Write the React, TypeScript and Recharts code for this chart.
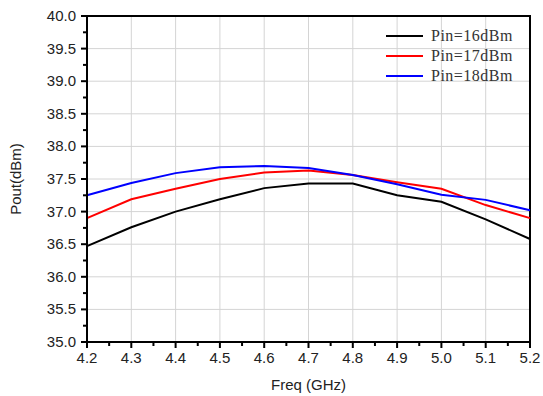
import React from 'react';
import {
  CartesianGrid,
  Legend,
  Line,
  LineChart,
  ReferenceArea,
  XAxis,
  YAxis,
} from 'recharts';

const freqs = [4.2, 4.3, 4.4, 4.5, 4.6, 4.7, 4.8, 4.9, 5.0, 5.1, 5.2];
const pin16 = [36.47, 36.76, 37.0, 37.19, 37.36, 37.43, 37.43, 37.25, 37.15, 36.88, 36.58];
const pin17 = [36.9, 37.19, 37.35, 37.5, 37.6, 37.63, 37.56, 37.45, 37.35, 37.1, 36.9];
const pin18 = [37.25, 37.44, 37.59, 37.68, 37.7, 37.67, 37.56, 37.42, 37.26, 37.18, 37.02];

const xMajor = [4.2, 4.3, 4.4, 4.5, 4.6, 4.7, 4.8, 4.9, 5.0, 5.1, 5.2];
const xMinor = [4.25, 4.35, 4.45, 4.55, 4.65, 4.75, 4.85, 4.95, 5.05, 5.15];
const yMajor = [35.0, 35.5, 36.0, 36.5, 37.0, 37.5, 38.0, 38.5, 39.0, 39.5, 40.0];
const yMinor = [35.25, 35.75, 36.25, 36.75, 37.25, 37.75, 38.25, 38.75, 39.25, 39.75];

const seriesNames = ['Pin=16dBm', 'Pin=17dBm', 'Pin=18dBm'];
const seriesColors = ['#000000', '#ff0000', '#0000ff'];

const data = freqs.map((f, i) => ({ f, s16: pin16[i], s17: pin17[i], s18: pin18[i] }));

const isMajor = (v: number, list: number[]) => list.some((m) => Math.abs(m - v) < 1e-6);

const XTick = (props: any) => {
  const { x, y, payload } = props;
  const major = isMajor(payload.value, xMajor);
  return (
    <g>
      <line x1={x} y1={y} x2={x} y2={y + (major ? 6 : 4)} stroke="#000" strokeWidth={2} />
      {major && (
        <text x={x} y={y + 21} textAnchor="middle" fontSize={15} fill="#222"
          fontFamily="'Liberation Sans', Arial, sans-serif">
          {payload.value.toFixed(1)}
        </text>
      )}
    </g>
  );
};

const TopTick = (props: any) => {
  const { x, y, payload } = props;
  const major = isMajor(payload.value, xMajor);
  return <line x1={x} y1={y} x2={x} y2={y + (major ? 5 : 3)} stroke="#000" strokeWidth={2} />;
};

const YTick = (props: any) => {
  const { x, y, payload } = props;
  const major = isMajor(payload.value, yMajor);
  return (
    <g>
      <line x1={x} y1={y} x2={x - (major ? 6 : 4)} y2={y} stroke="#000" strokeWidth={2} />
      {major && (
        <text x={x - 11} y={y + 5} textAnchor="end" fontSize={15} fill="#222"
          fontFamily="'Liberation Sans', Arial, sans-serif">
          {payload.value.toFixed(1)}
        </text>
      )}
    </g>
  );
};

const LegendBox = () => (
  <div style={{ fontFamily: "'Liberation Serif', 'Times New Roman', serif", fontSize: 16, color: '#333' }}>
    {seriesNames.map((n, i) => (
      <div key={n} style={{ display: 'flex', alignItems: 'center', height: 20 }}>
        <div style={{ width: 37, height: 2, background: seriesColors[i], marginRight: 8 }} />
        <span style={{ letterSpacing: 0.5 }}>{n}</span>
      </div>
    ))}
  </div>
);

export default function App() {
  return (
    <div style={{ position: 'absolute', left: 0, top: 0, background: '#fff' }}>
      <LineChart width={543} height={396} data={data} margin={{ top: 16, right: 13, left: 0, bottom: 0 }}>
        <CartesianGrid stroke="#d4d4d4" strokeWidth={1}
          verticalValues={xMajor} horizontalValues={yMajor} />
        <XAxis dataKey="f" type="number" domain={[4.2, 5.2]} ticks={[...xMajor, ...xMinor].sort((a, b) => a - b)}
          interval={0} tickLine={false} tickSize={0} tickMargin={0} height={54}
          axisLine={{ stroke: '#000', strokeWidth: 2 }} tick={<XTick />}
          label={{ value: 'Freq (GHz)', position: 'insideBottom', offset: 6, fontSize: 15, fill: '#222',
            fontFamily: "'Liberation Sans', Arial, sans-serif" }} />
        <XAxis xAxisId="top" orientation="top" dataKey="f" type="number" domain={[4.2, 5.2]}
          ticks={[...xMajor, ...xMinor].sort((a, b) => a - b)} interval={0} tickLine={false} tickSize={0}
          height={0} axisLine={{ stroke: '#000', strokeWidth: 2 }} tick={<TopTick />} />
        <YAxis type="number" domain={[35, 40]} ticks={[...yMajor, ...yMinor].sort((a, b) => a - b)}
          interval={0} tickLine={false} tickSize={0} tickMargin={0} width={87}
          axisLine={{ stroke: '#000', strokeWidth: 2 }} tick={<YTick />}
          label={{ value: 'Pout(dBm)', angle: -90, position: 'insideLeft', offset: 16, fontSize: 15, fill: '#222',
            fontFamily: "'Liberation Sans', Arial, sans-serif", style: { textAnchor: 'middle' } }} />
        <ReferenceArea x1={4.2} x2={5.2} y1={35} y2={40} fill="none" fillOpacity={0} stroke="#000" strokeWidth={2} />
        <Legend content={<LegendBox />} layout="vertical" align="center" verticalAlign="middle"
          wrapperStyle={{ position: 'absolute', left: 386, top: 26, width: 150 }} />
        <Line type="linear" dataKey="s16" name={seriesNames[0]} stroke={seriesColors[0]} strokeWidth={2} dot={false} isAnimationActive={false} />
        <Line type="linear" dataKey="s17" name={seriesNames[1]} stroke={seriesColors[1]} strokeWidth={2} dot={false} isAnimationActive={false} />
        <Line type="linear" dataKey="s18" name={seriesNames[2]} stroke={seriesColors[2]} strokeWidth={2} dot={false} isAnimationActive={false} />
      </LineChart>
    </div>
  );
}
